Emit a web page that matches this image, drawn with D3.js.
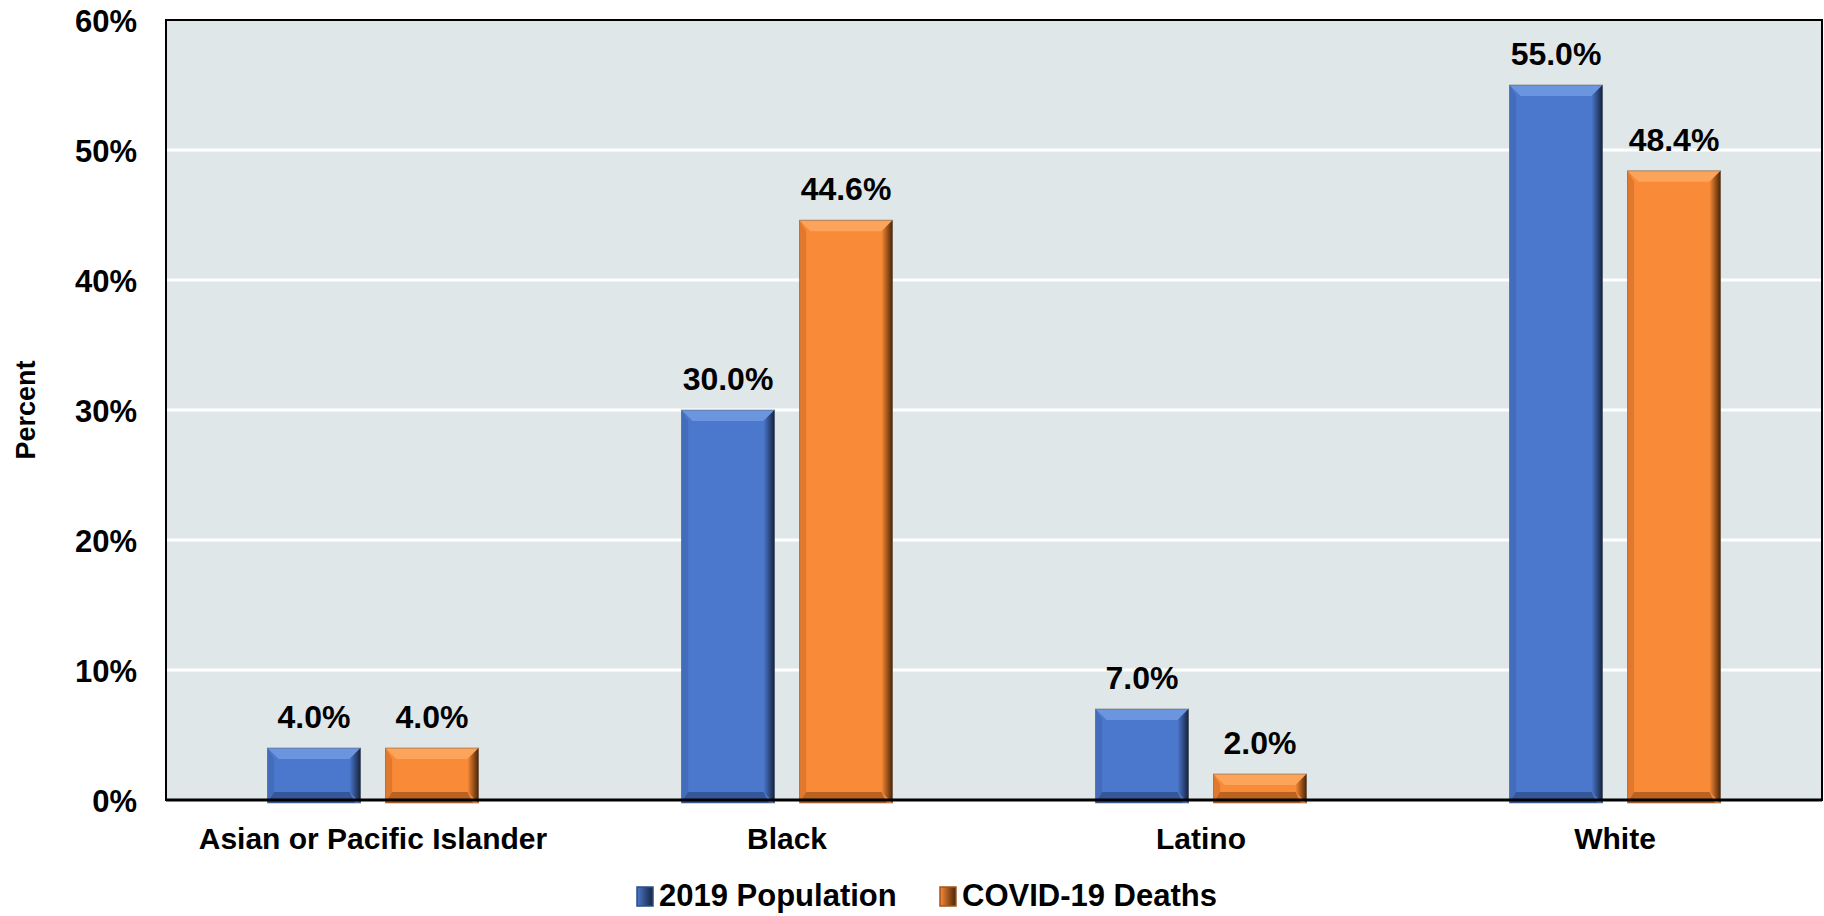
<!DOCTYPE html>
<html>
<head>
<meta charset="utf-8">
<title>Population vs COVID-19 deaths</title>
<script src="https://cdn.jsdelivr.net/npm/d3@7/dist/d3.min.js"></script>
<style>
  html, body { margin: 0; padding: 0; background: #fff; }
  text { font-family: "Liberation Sans", Arial, sans-serif; font-weight: bold; fill: #000; }
</style>
</head>
<body>
<svg id="chart"></svg>
<script>
// data
var categories = ["Asian or Pacific Islander", "Black", "Latino", "White"];
var series = ["2019 Population", "COVID-19 Deaths"];
var population = [4.0, 30.0, 7.0, 55.0];
var deaths = [4.0, 44.6, 2.0, 48.4];
var yTicks = [0, 10, 20, 30, 40, 50, 60];

var width = 1824, height = 916;
// note: "top" clashes with window.top, so use plot* names
var plotLeft = 166, plotRight = 1822, plotTop = 20, plotBottom = 800;

// base, top highlight, right shade, bottom shade, left shade
var palette = {
  "2019 Population": { base: "#4b78cc", top: "#739ce4", right: "#15233f", bottom: "#2c4c88", left: "#3d65ad" },
  "COVID-19 Deaths": { base: "#f98a37", top: "#fdaa62", right: "#4a2406", bottom: "#a4541b", left: "#cf6d27" }
};

var svg = d3.select("#chart").attr("width", width).attr("height", height);

// horizontal gradients for the shaded right edge of each bar (3d bevel look)
var defs = svg.append("defs");
series.forEach(function(s, i) {
  var gr = defs.append("linearGradient").attr("id", "edge" + i)
    .attr("x1", "0").attr("x2", "1").attr("y1", "0").attr("y2", "0");
  gr.append("stop").attr("offset", "0%").attr("stop-color", palette[s].base);
  gr.append("stop").attr("offset", "100%").attr("stop-color", palette[s].right);
});

var x0 = d3.scaleBand().domain(categories).range([plotLeft, plotRight]).padding(0);
var x1 = d3.scaleBand().domain(series).range([0, 211]).paddingInner(0.212);
var y = d3.scaleLinear().domain([0, 60]).range([plotBottom, plotTop]);

// plot background
svg.append("rect")
  .attr("x", plotLeft).attr("y", plotTop)
  .attr("width", plotRight - plotLeft).attr("height", plotBottom - plotTop)
  .attr("fill", "#e0e7e9");

// gridlines
svg.append("g").selectAll("line")
  .data(yTicks.filter(function(t) { return t > 0 && t < 60; }))
  .enter().append("line")
  .attr("x1", plotLeft).attr("x2", plotRight)
  .attr("y1", function(d) { return y(d); })
  .attr("y2", function(d) { return y(d); })
  .attr("stroke", "#fff")
  .attr("stroke-width", 3);

// y axis labels
var yAxis = d3.axisLeft(y).tickValues(yTicks).tickSize(0).tickPadding(29)
  .tickFormat(function(d) { return d + "%"; });
svg.append("g")
  .attr("transform", "translate(" + plotLeft + ",0)")
  .call(yAxis)
  .call(function(g) { g.select(".domain").remove(); })
  .selectAll("text")
  .style("font-size", "31px")
  .attr("dy", "0.36em");

svg.append("text")
  .attr("transform", "translate(35," + ((plotTop + plotBottom) / 2) + ") rotate(-90)")
  .attr("text-anchor", "middle")
  .style("font-size", "27px")
  .text("Percent");

var rows = [];
categories.forEach(function(c, i) {
  rows.push({ cat: c, key: series[0], si: 0, value: population[i] });
  rows.push({ cat: c, key: series[1], si: 1, value: deaths[i] });
});

var groupOffset = (x0.bandwidth() - 211) / 2;
var bev = 11;

function poly(pts) {
  return "M" + pts.map(function(p) { return p[0] + "," + p[1]; }).join("L") + "Z";
}

svg.append("g").selectAll("g")
  .data(rows)
  .enter().append("g")
  .each(function(d) {
    var g = d3.select(this);
    var x = x0(d.cat) + groupOffset + x1(d.key);
    var w = x1.bandwidth();
    var yt = y(d.value), yb = y(0) + 3;
    var b = Math.min(bev, (yb - yt) / 2.5);
    var c = palette[d.key];
    g.append("rect").attr("x", x).attr("y", yt).attr("width", w).attr("height", yb - yt)
      .attr("fill", c.base);
    g.append("path").attr("fill", c.top).attr("opacity", 0.8)
      .attr("d", poly([[x, yt], [x + w, yt], [x + w - b, yt + b], [x + b, yt + b]]));
    g.append("path").attr("fill", c.left).attr("opacity", 0.6)
      .attr("d", poly([[x, yt], [x + b * 0.6, yt + b], [x + b * 0.6, yb - b], [x, yb]]));
    g.append("path").attr("fill", "url(#edge" + d.si + ")")
      .attr("d", poly([[x + w, yt], [x + w, yb], [x + w - b, yb - b], [x + w - b, yt + b]]));
    g.append("path").attr("fill", c.bottom).attr("opacity", 0.75)
      .attr("d", poly([[x, yb], [x + w - b * 0.5, yb], [x + w - b, yb - b], [x + b * 0.6, yb - b]]));
    g.append("rect").attr("x", x).attr("y", yt).attr("width", w).attr("height", yb - yt)
      .attr("fill", "none").attr("stroke", "#555").attr("stroke-opacity", 0.5).attr("stroke-width", 1);
    g.append("text")
      .attr("x", x + w / 2).attr("y", yt - 20)
      .attr("text-anchor", "middle")
      .style("font-size", "32px")
      .text(d.value.toFixed(1) + "%");
  });

// plot border
svg.append("rect")
  .attr("x", plotLeft).attr("y", plotTop)
  .attr("width", plotRight - plotLeft).attr("height", plotBottom - plotTop)
  .attr("fill", "none").attr("stroke", "#000").attr("stroke-width", 2);
svg.append("line")
  .attr("x1", plotLeft).attr("x2", plotRight).attr("y1", plotBottom).attr("y2", plotBottom)
  .attr("stroke", "#000").attr("stroke-width", 3);

// category labels
svg.append("g").selectAll("text")
  .data(categories)
  .enter().append("text")
  .attr("x", function(d) { return x0(d) + x0.bandwidth() / 2; })
  .attr("y", 849)
  .attr("text-anchor", "middle")
  .style("font-size", "30px")
  .text(function(d) { return d; });

// legend
var legendX = [637, 940];
var legend = svg.append("g").selectAll("g")
  .data(series)
  .enter().append("g")
  .attr("transform", function(d, i) { return "translate(" + legendX[i] + ",887)"; });
legend.append("rect")
  .attr("width", 16).attr("height", 19)
  .attr("fill", function(d, i) { return "url(#edge" + i + ")"; })
  .attr("stroke", function(d) { return palette[d].bottom; })
  .attr("stroke-width", 1.5);
legend.append("text")
  .attr("x", 22).attr("y", 19)
  .style("font-size", "31px")
  .text(function(d) { return d; });
</script>
</body>
</html>
